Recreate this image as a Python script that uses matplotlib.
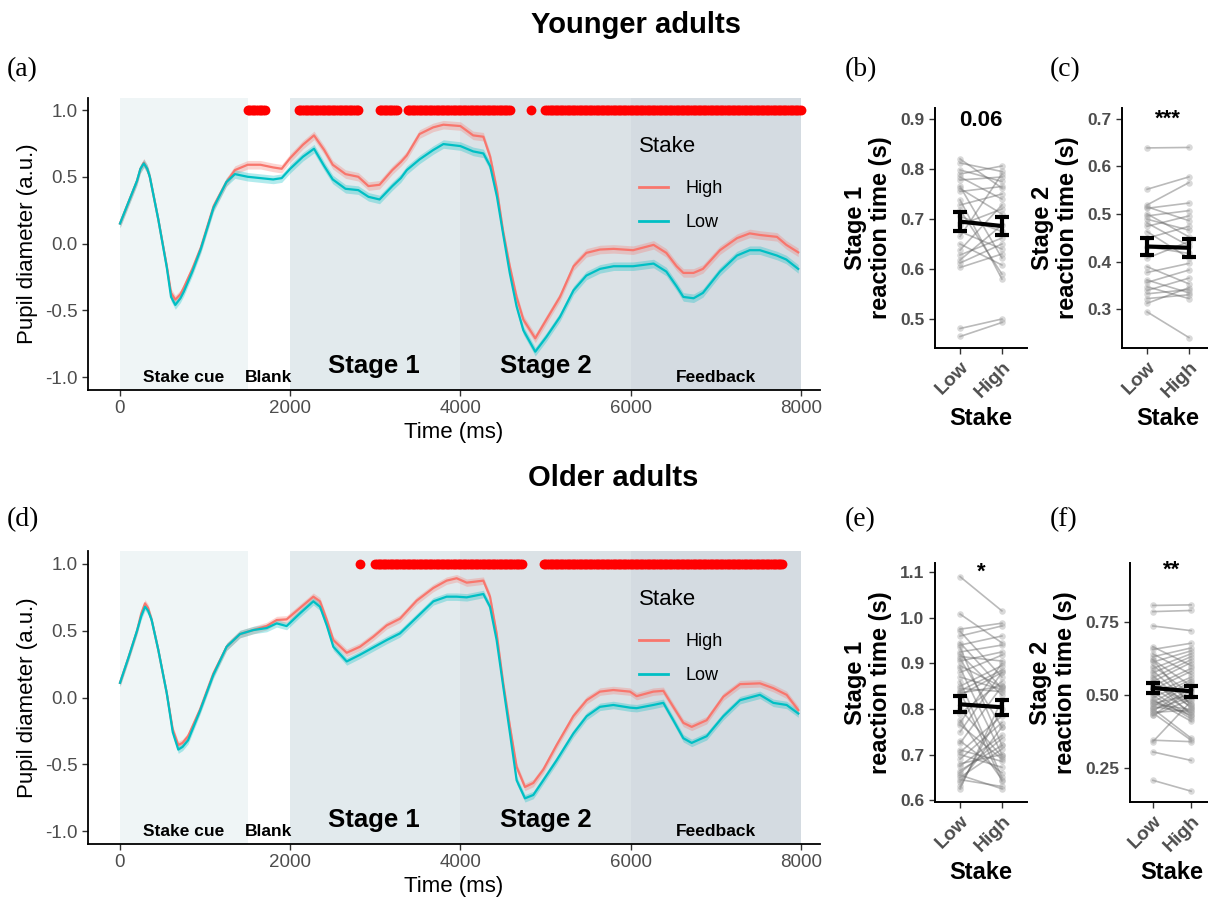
import numpy as np
import matplotlib.pyplot as plt
from matplotlib.lines import Line2D

plt.rcParams['font.family'] = ['Liberation Sans', 'DejaVu Sans']

# pupil time courses (time in ms, diameter in a.u.)
t_young = [0, 100, 200, 240, 280, 320, 350, 450, 550, 600, 650, 710, 750, 850, 950, 1100, 1250,
           1350, 1500, 1650, 1800, 1900, 2000, 2150, 2280, 2400, 2500, 2650, 2800, 2920, 3050,
           3200, 3300, 3370, 3520, 3680, 3800, 4000, 4150, 4270, 4350, 4430, 4500, 4580, 4660,
           4740, 4880, 5010, 5170, 5330, 5480, 5640, 5800, 6030, 6270, 6420, 6540, 6620,
           6740, 6850, 7050, 7250, 7400, 7520, 7720, 7830, 7970]
young_high = [0.15, 0.31, 0.47, 0.56, 0.605, 0.56, 0.50, 0.18, -0.17, -0.37, -0.42, -0.38,
              -0.33, -0.19, -0.03, 0.28, 0.46, 0.55, 0.59, 0.59, 0.57, 0.56, 0.64, 0.74, 0.81,
              0.70, 0.59, 0.52, 0.50, 0.43, 0.44, 0.55, 0.61, 0.66, 0.82, 0.87, 0.89, 0.88,
              0.81, 0.80, 0.65, 0.40, 0.10, -0.17, -0.40, -0.57, -0.71, -0.57, -0.40, -0.17,
              -0.07, -0.045, -0.04, -0.05, -0.01, -0.07, -0.17, -0.22, -0.22, -0.19, -0.05,
              0.04, 0.076, 0.064, 0.05, -0.01, -0.066]
young_low = [0.15, 0.31, 0.47, 0.56, 0.60, 0.56, 0.50, 0.18, -0.18, -0.40, -0.46, -0.41,
             -0.36, -0.21, -0.04, 0.27, 0.46, 0.52, 0.50, 0.49, 0.48, 0.49, 0.56, 0.65, 0.71,
             0.58, 0.48, 0.41, 0.40, 0.35, 0.33, 0.43, 0.49, 0.55, 0.63, 0.70, 0.745, 0.73,
             0.69, 0.675, 0.58, 0.35, 0.08, -0.22, -0.47, -0.65, -0.81, -0.70, -0.55, -0.35,
             -0.24, -0.19, -0.17, -0.17, -0.15, -0.21, -0.32, -0.40, -0.41, -0.37, -0.21,
             -0.09, -0.05, -0.05, -0.09, -0.12, -0.19]

t_old = [0, 100, 200, 250, 294, 330, 372, 450, 550, 620, 685, 735, 800, 940, 1097, 1253, 1410,
         1567, 1723, 1841, 1958, 2115, 2272, 2350, 2430, 2507, 2664, 2820, 2977, 3134, 3290,
         3486, 3682, 3838, 3956, 4074, 4270, 4348, 4426, 4504, 4583, 4661, 4759, 4857, 4974,
         5131, 5327, 5484, 5640, 5797, 5993, 6071, 6267, 6385, 6502, 6620, 6718, 6894, 7090,
         7286, 7520, 7677, 7834, 7971]
old_high = [0.11, 0.30, 0.50, 0.63, 0.705, 0.67, 0.58, 0.356, 0.03, -0.24, -0.356, -0.34,
            -0.29, -0.09, 0.18, 0.38, 0.475, 0.505, 0.535, 0.58, 0.585, 0.67, 0.755, 0.72,
            0.58, 0.43, 0.335, 0.38, 0.455, 0.54, 0.59, 0.725, 0.82, 0.875, 0.893, 0.86,
            0.875, 0.755, 0.48, 0.106, -0.22, -0.52, -0.67, -0.64, -0.54, -0.356, -0.14,
            -0.02, 0.044, 0.056, 0.044, 0.01, 0.044, 0.05, -0.07, -0.19, -0.22, -0.17, 0.006,
            0.10, 0.106, 0.07, 0.02, -0.094]
old_low = [0.11, 0.30, 0.50, 0.61, 0.68, 0.65, 0.58, 0.356, 0.03, -0.26, -0.39, -0.37,
           -0.32, -0.10, 0.17, 0.38, 0.475, 0.505, 0.52, 0.555, 0.535, 0.63, 0.72, 0.68, 0.54,
           0.38, 0.27, 0.32, 0.375, 0.43, 0.48, 0.60, 0.72, 0.755, 0.755, 0.75, 0.775, 0.68,
           0.43, 0.08, -0.27, -0.62, -0.755, -0.73, -0.62, -0.47, -0.27, -0.14, -0.07,
           -0.056, -0.076, -0.08, -0.056, -0.04, -0.17, -0.305, -0.34, -0.29, -0.14, -0.02,
           0.02, -0.04, -0.056, -0.12]
band_young = 0.032
band_old = 0.028

# clusters where High and Low differ (start, end in ms)
sig_young = [(1500, 1700), (2100, 2800), (3050, 3250), (3380, 4580), (4830, 4830), (5000, 8000)]
sig_old = [(2820, 2820), (3000, 4720), (4980, 7780)]

# task phases: start, end, fill
phases = [(0, 1500, '#eff5f6'), (2000, 4000, '#e2eaed'),
          (4000, 6000, '#dbe2e6'), (6000, 8000, '#d4dbe1')]
phase_text = [('Stake cue', 750, -1.0, 12.5), ('Blank', 1750, -1.0, 12.5),
              ('Stage 1', 2985, -0.92, 18.5), ('Stage 2', 5008, -0.92, 18.5),
              ('Feedback', 7000, -1.0, 12.5)]

# reaction times per participant (s): Low stake, High stake
yng_s1_low = [0.820, 0.812, 0.798, 0.790, 0.784, 0.778, 0.765, 0.761, 0.755, 0.738, 0.728, 0.718,
              0.705, 0.688, 0.675, 0.665, 0.650, 0.638, 0.628, 0.618, 0.612, 0.603, 0.481, 0.465]
yng_s1_high = [0.762, 0.795, 0.775, 0.806, 0.740, 0.784, 0.622, 0.710, 0.765, 0.580, 0.750, 0.590,
               0.675, 0.720, 0.640, 0.790, 0.608, 0.728, 0.662, 0.688, 0.650, 0.630, 0.500, 0.493]
yng_s2_low = [0.639, 0.552, 0.519, 0.512, 0.515, 0.496, 0.500, 0.489, 0.481, 0.474, 0.463, 0.449,
              0.431, 0.407, 0.389, 0.377, 0.361, 0.356, 0.347, 0.339, 0.332, 0.322, 0.312, 0.294]
yng_s2_high = [0.640, 0.578, 0.566, 0.523, 0.486, 0.507, 0.452, 0.466, 0.433, 0.496, 0.407, 0.474,
               0.417, 0.442, 0.353, 0.396, 0.334, 0.382, 0.322, 0.365, 0.341, 0.330, 0.345, 0.240]
old_s1_low = [1.090, 1.008, 0.975, 0.970, 0.960, 0.945, 0.940, 0.935, 0.925, 0.920, 0.915, 0.910,
              0.905, 0.895, 0.890, 0.880, 0.870, 0.860, 0.850, 0.845, 0.840, 0.838, 0.835, 0.830,
              0.800, 0.790, 0.775, 0.770, 0.765, 0.750, 0.730, 0.725, 0.710, 0.705, 0.700, 0.690,
              0.680, 0.675, 0.665, 0.660, 0.655, 0.650, 0.645, 0.640, 0.630, 0.625]
old_s1_high = [1.015, 0.945, 0.988, 0.870, 0.982, 0.845, 0.960, 0.720, 0.940, 0.830, 0.905, 0.760,
               0.925, 0.848, 0.700, 0.918, 0.842, 0.650, 0.895, 0.838, 0.885, 0.642, 0.850, 0.880,
               0.695, 0.860, 0.645, 0.900, 0.690, 0.880, 0.660, 0.850, 0.685, 0.785, 0.672, 0.770,
               0.700, 0.742, 0.720, 0.735, 0.625, 0.712, 0.630, 0.760, 0.800, 0.820]
old_s2_low = [0.805, 0.784, 0.735, 0.664, 0.655, 0.640, 0.630, 0.620, 0.612, 0.600, 0.590, 0.582,
              0.575, 0.565, 0.558, 0.550, 0.545, 0.538, 0.530, 0.525, 0.518, 0.510, 0.505, 0.498,
              0.490, 0.482, 0.475, 0.468, 0.460, 0.452, 0.445, 0.438, 0.430, 0.540, 0.520, 0.480,
              0.470, 0.460, 0.450, 0.440, 0.430, 0.345, 0.340, 0.305, 0.208, 0.620]
old_s2_high = [0.807, 0.788, 0.719, 0.600, 0.676, 0.570, 0.660, 0.530, 0.650, 0.500, 0.640, 0.470,
               0.630, 0.455, 0.620, 0.432, 0.610, 0.460, 0.590, 0.440, 0.580, 0.425, 0.560, 0.418,
               0.552, 0.410, 0.545, 0.450, 0.538, 0.352, 0.522, 0.345, 0.515, 0.470, 0.508, 0.430,
               0.500, 0.440, 0.492, 0.448, 0.485, 0.340, 0.478, 0.276, 0.171, 0.462]

HIGH = '#F8766D'
LOW = '#00BFC4'
TICK = '#4d4d4d'

fig = plt.figure(figsize=(12.08, 8.97), dpi=100)


def pupil_panel(ax, t, hi, lo, band, sig, ylim):
    for a, b, c in phases:
        ax.axvspan(a, b, color=c, lw=0, zorder=0)
    t = np.array(t)
    for vals, col in [(hi, HIGH), (lo, LOW)]:
        v = np.array(vals)
        ax.fill_between(t, v - band, v + band, color=col, alpha=0.3, lw=0, zorder=2)
        ax.plot(t, v, color=col, lw=1.6, zorder=3, solid_joinstyle='round')
    for a, b in sig:
        ts = np.arange(a, b + 1, 20)
        ax.scatter(ts, np.ones(len(ts)), s=50, color='#ff0000', lw=0, zorder=4)
    for txt, x, y, fs in phase_text:
        ax.text(x, y, txt, ha='center', va='center', fontsize=fs, weight='bold', zorder=5)
    ax.set_xlim(-376, 8226)
    ax.set_ylim(*ylim)
    ax.set_xticks([0, 2000, 4000, 6000, 8000])
    ax.set_yticks([-1.0, -0.5, 0.0, 0.5, 1.0])
    ax.set_yticklabels(['-1.0', '-0.5', '0.0', '0.5', '1.0'])
    ax.tick_params(direction='out', length=4, width=1, color='#333333',
                   labelcolor=TICK, labelsize=13.5)
    for s in ['top', 'right']:
        ax.spines[s].set_visible(False)
    for s in ['left', 'bottom']:
        ax.spines[s].set_linewidth(1.3)
    ax.set_xlabel('Time (ms)', fontsize=16, labelpad=3)
    ax.set_ylabel('Pupil diameter (a.u.)', fontsize=16, labelpad=5)
    handles = [Line2D([], [], color=HIGH, lw=2), Line2D([], [], color=LOW, lw=2)]
    leg = ax.legend(handles, ['High', 'Low'], title='Stake', loc='upper left',
                    bbox_to_anchor=(0.74, 0.88), frameon=False, fontsize=13,
                    title_fontsize=16, handlelength=1.6, handletextpad=1.0,
                    labelspacing=0.95, borderpad=0, alignment='left')
    leg.get_title().set_position((0, 6))


def rt_panel(ax, low, high, ylabel, yticks, ylim, star, star_y, fmt='%.1f'):
    for lo_v, hi_v in zip(low, high):
        ax.plot([1, 2], [lo_v, hi_v], color='#666666', alpha=0.45, lw=1.2, zorder=2)
    ax.scatter([1] * len(low), low, s=22, color='#a0a0a0', alpha=0.4, lw=0, zorder=2)
    ax.scatter([2] * len(high), high, s=22, color='#a0a0a0', alpha=0.4, lw=0, zorder=2)
    means = [np.mean(low), np.mean(high)]
    ses = [np.std(low, ddof=1) / np.sqrt(len(low)), np.std(high, ddof=1) / np.sqrt(len(high))]
    ax.plot([1, 2], means, color='black', lw=3, zorder=4)
    ax.errorbar([1, 2], means, yerr=ses, fmt='none', ecolor='black', elinewidth=3,
                capsize=5, capthick=3, zorder=4)
    ax.text(1.5, star_y, star, ha='center', va='center', fontsize=16, weight='bold')
    ax.set_xlim(0.4, 2.6)
    ax.set_ylim(*ylim)
    ax.set_xticks([1, 2])
    ax.set_xticklabels(['Low', 'High'], rotation=45, ha='right', va='top',
                       rotation_mode='anchor')
    ax.set_yticks(yticks)
    ax.set_yticklabels([fmt % v for v in yticks])
    ax.tick_params(direction='out', length=4, width=1, color='#333333',
                   labelcolor=TICK, labelsize=12.5)
    ax.tick_params(axis='x', labelsize=14)
    for lab in ax.get_xticklabels() + ax.get_yticklabels():
        lab.set_fontweight('bold')
    for s in ['top', 'right']:
        ax.spines[s].set_visible(False)
    for s in ['left', 'bottom']:
        ax.spines[s].set_linewidth(1.4)
    ax.set_xlabel('Stake', fontsize=17, weight='bold', labelpad=4)
    ax.set_ylabel(ylabel, fontsize=17, weight='bold', labelpad=6, linespacing=1.1)


W, H = 1208.0, 897.0


def box(x0, y0, x1, y1):
    return [x0 / W, 1 - y1 / H, (x1 - x0) / W, (y1 - y0) / H]


ax_a = fig.add_axes(box(88, 98, 820, 390))
pupil_panel(ax_a, t_young, young_high, young_low, band_young, sig_young, (-1.097, 1.09))
ax_d = fig.add_axes(box(88, 551, 820, 844))
pupil_panel(ax_d, t_old, old_high, old_low, band_old, sig_old, (-1.097, 1.097))

ax_b = fig.add_axes(box(935, 108, 1027, 348))
rt_panel(ax_b, yng_s1_low, yng_s1_high, 'Stage 1\nreaction time (s)',
         [0.5, 0.6, 0.7, 0.8, 0.9], (0.442, 0.922), '0.06', 0.897)
ax_c = fig.add_axes(box(1122, 108, 1214, 348))
rt_panel(ax_c, yng_s2_low, yng_s2_high, 'Stage 2\nreaction time (s)',
         [0.3, 0.4, 0.5, 0.6, 0.7], (0.218, 0.723), '***', 0.70)
ax_e = fig.add_axes(box(935, 563, 1027, 802))
rt_panel(ax_e, old_s1_low, old_s1_high, 'Stage 1\nreaction time (s)',
         [0.6, 0.7, 0.8, 0.9, 1.0, 1.1], (0.596, 1.12), '*', 1.10)
ax_f = fig.add_axes(box(1130, 563, 1214, 802))
rt_panel(ax_f, old_s2_low, old_s2_high, 'Stage 2\nreaction time (s)',
         [0.25, 0.50, 0.75], (0.134, 0.95), '**', 0.925, fmt='%.2f')

fig.text(636 / W, 1 - 25 / H, 'Younger adults', ha='center', va='center',
         fontsize=21, weight='bold')
fig.text(613 / W, 1 - 478 / H, 'Older adults', ha='center', va='center',
         fontsize=21, weight='bold')
for lab, x, y in [('(a)', 7, 70), ('(b)', 845, 70), ('(c)', 1050, 70),
                  ('(d)', 7, 520), ('(e)', 845, 520), ('(f)', 1050, 520)]:
    fig.text(x / W, 1 - y / H, lab, ha='left', va='center', fontsize=20,
             family='Liberation Serif')

fig.savefig('out.png', dpi=100)
